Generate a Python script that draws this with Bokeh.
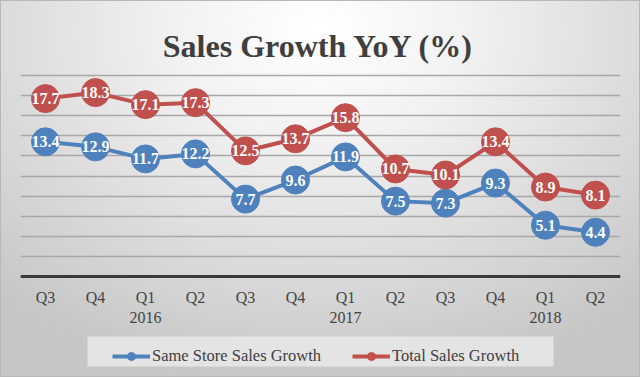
from bokeh.plotting import figure
from bokeh.models import (Range1d, FixedTicker, ColumnDataSource, Legend, LegendItem,
                          Label, BoxAnnotation)
from bokeh.core.properties import value
from bokeh.embed import file_html
from bokeh.resources import INLINE

# ---- data ----
quarters = ["Q3", "Q4", "Q1", "Q2", "Q3", "Q4", "Q1", "Q2", "Q3", "Q4", "Q1", "Q2"]
years = ["", "", "2016", "", "", "", "2017", "", "", "", "2018", ""]
same_store = [13.4, 12.9, 11.7, 12.2, 7.7, 9.6, 11.9, 7.5, 7.3, 9.3, 5.1, 4.4]
total_sales = [17.7, 18.3, 17.1, 17.3, 12.5, 13.7, 15.8, 10.7, 10.1, 13.4, 8.9, 8.1]
series_names = ["Same Store Sales Growth", "Total Sales Growth"]
grid_ticks = [2, 4, 6, 8, 10, 12, 14, 16, 18, 20]
title_text = "Sales Growth YoY (%)"

BLUE = "#4F81BD"
RED = "#C0504D"
SERIF = "Liberation Serif"

# ---- layout (pixels) ----
W, H = 640, 377
FRAME_L, FRAME_R = 20, 620          # horizontal extent of the plot area
Y_TOP_PX, Y_ZERO_PX = 75, 276       # pixel rows of y=20 and y=0
Y_MAX = 20
ppu = (Y_ZERO_PX - Y_TOP_PX) / Y_MAX
n = len(quarters)
xppu = (FRAME_R - FRAME_L) / n


def px_x(px):
    return (px - FRAME_L) / xppu - 0.5


def px_y(py):
    return Y_MAX + (Y_TOP_PX - py) / ppu


idx = list(range(n))
tick_labels = {i: (q + "\n" + y if y else q) for i, (q, y) in enumerate(zip(quarters, years))}

p = figure(width=W, height=H, output_backend="svg", toolbar_location=None,
           x_range=Range1d(-0.5, n - 0.5), y_range=Range1d(px_y(H), px_y(0)),
           min_border_left=FRAME_L, min_border_right=W - FRAME_R,
           min_border_top=0, min_border_bottom=0)
p.styles = {"background": "radial-gradient(ellipse 75% 95% at 50% 8%, #ffffff 0%, #f2f2f2 30%, #dcdcdc 65%, #c6c6c6 100%)",
            "box-shadow": "inset 0 0 0 1px #b8b8b8"}
p.border_fill_color = None
p.background_fill_color = None
p.outline_line_color = None

p.yaxis.visible = False
p.ygrid.ticker = FixedTicker(ticks=grid_ticks)
p.ygrid.grid_line_color = "#a8a8a8"
p.ygrid.grid_line_width = 1.5
p.xgrid.visible = False

p.xaxis.fixed_location = 0
p.xaxis.ticker = FixedTicker(ticks=idx)
p.xaxis.major_label_overrides = tick_labels
p.xaxis.major_tick_line_color = None
p.xaxis.minor_tick_line_color = None
p.xaxis.axis_line_color = "#3a3a3a"
p.xaxis.axis_line_width = 3
p.xaxis.major_label_text_font = SERIF
p.xaxis.major_label_text_font_size = "16px"
p.xaxis.major_label_text_color = "#444444"
p.xaxis.major_label_standoff = 6

# title
p.add_layout(Label(x=px_x(318), y=px_y(45), text=title_text, text_font=SERIF,
                   text_font_style="bold", text_font_size="32px", text_color="#3f3f3f",
                   text_align="center", text_baseline="alphabetic"))

src = ColumnDataSource(dict(x=idx, ss=same_store, ts=total_sales,
                            ss_t=[f"{v:.1f}" for v in same_store],
                            ts_t=[f"{v:.1f}" for v in total_sales]))

# legend background box
p.add_layout(BoxAnnotation(left=px_x(87), right=px_x(553), top=px_y(336), bottom=px_y(366),
                           fill_color="#e4e4e4", fill_alpha=1.0, line_color=None,
                           level="underlay"))

items = []
for name, ycol, tcol, color in zip(series_names, ("ss", "ts"), ("ss_t", "ts_t"), (BLUE, RED)):
    r1 = p.line("x", ycol, source=src, line_color=color, line_width=4)
    r2 = p.scatter("x", ycol, source=src, size=28, fill_color=color, line_color=color)
    p.text("x", ycol, text=tcol, source=src, text_color="white",
           text_font=value(SERIF), text_font_style="bold", text_font_size="16px",
           text_align="center", text_baseline="middle")
    items.append(LegendItem(label=name, renderers=[r1, r2]))

legend = Legend(items=items, orientation="horizontal", location=(112 - FRAME_L, H - 366),
                background_fill_alpha=0, border_line_color=None,
                label_text_font=SERIF, label_text_font_size="16.5px",
                label_text_color="#404040", glyph_width=38, glyph_height=20,
                label_height=20, label_standoff=2, spacing=31, padding=5, margin=0)
p.add_layout(legend, "center")

open("out.html", "w").write(file_html(p, INLINE))
